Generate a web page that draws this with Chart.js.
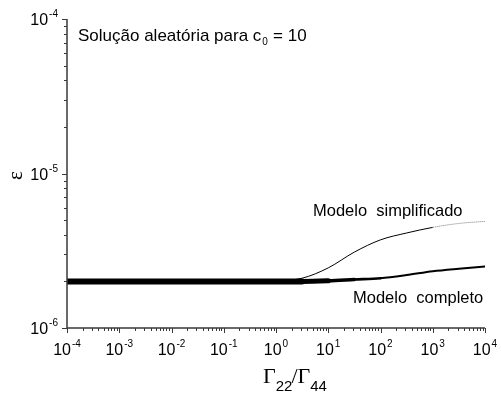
<!DOCTYPE html>
<html><head><meta charset="utf-8">
<script src="https://cdn.jsdelivr.net/npm/chart.js@4/dist/chart.umd.min.js"></script>
<style>html,body{margin:0;padding:0;background:#fff}</style>
</head><body><canvas id="c" width="501" height="394"></canvas>
<script>
// Data
const gammaRatio = [1e-4, 1e-3, 1e-2, 1e-1, 1, 3.16, 10, 31.6, 100, 316, 1000, 3162, 10000];
const modeloSimplificado = [2.0e-6, 2.0e-6, 2.0e-6, 2.0e-6, 2.02e-6, 2.1e-6, 2.45e-6, 3.1e-6, 3.72e-6, 4.12e-6, 4.48e-6, 4.75e-6, 4.9e-6];
const modeloCompleto = [2.0e-6, 2.0e-6, 2.0e-6, 2.0e-6, 2.0e-6, 2.0e-6, 2.02e-6, 2.06e-6, 2.1e-6, 2.2e-6, 2.33e-6, 2.42e-6, 2.5e-6];
const xTickExponents = [-4, -3, -2, -1, 0, 1, 2, 3, 4];
const yTickExponents = [-6, -5, -4];
const seriesLabels = ['Modelo  simplificado', 'Modelo  completo'];
const annotationText = 'Solução aleatória para c';

const sans = '"Liberation Sans", Arial, sans-serif';
const serif = '"Liberation Serif", "Times New Roman", serif';

function pow10Label(ctx, exp, x, y, align, base) {
  const bigFont = base + 'px ' + sans;
  const smallFont = Math.round(base * 0.62) + 'px ' + sans;
  ctx.font = bigFont;
  const w1 = ctx.measureText('10').width;
  ctx.font = smallFont;
  const sup = exp < 0 ? '-' + Math.abs(exp) : String(exp);
  const w2 = ctx.measureText(sup).width;
  const total = w1 + w2 + 1;
  let x0 = align === 'center' ? x - total / 2 : x - total;
  ctx.textAlign = 'left';
  ctx.textBaseline = 'alphabetic';
  ctx.font = bigFont;
  ctx.fillText('10', x0, y);
  ctx.font = smallFont;
  ctx.fillText(sup, x0 + w1 + 1, y - base * 0.5);
}

const axesPlugin = {
  id: 'axesPlugin',
  afterDraw(chart) {
    const ctx = chart.ctx;
    const xs = chart.scales.x, ys = chart.scales.y;
    const a = chart.chartArea;
    ctx.save();
    ctx.strokeStyle = '#3a3a3a';
    ctx.fillStyle = '#000';
    ctx.lineWidth = 1.5;
    ctx.beginPath();
    ctx.moveTo(a.left, a.top);
    ctx.lineTo(a.left, a.bottom);
    ctx.lineTo(a.right, a.bottom);
    ctx.stroke();
    ctx.lineWidth = 1;
    for (let e = -4; e <= 4; e++) {
      for (let m = 1; m <= 9; m++) {
        if (e === 4 && m > 1) break;
        const v = m * Math.pow(10, e);
        const px = Math.round(xs.getPixelForValue(v)) + 0.5;
        const len = m === 1 ? 5 : 3;
        ctx.beginPath();
        ctx.moveTo(px, a.bottom);
        ctx.lineTo(px, a.bottom + len);
        ctx.stroke();
      }
    }
    for (let e = -6; e <= -4; e++) {
      for (let m = 1; m <= 9; m++) {
        if (e === -4 && m > 1) break;
        const v = m * Math.pow(10, e);
        const py = Math.round(ys.getPixelForValue(v)) + 0.5;
        const len = m === 1 ? 5 : 3;
        ctx.beginPath();
        ctx.moveTo(a.left, py);
        ctx.lineTo(a.left - len, py);
        ctx.stroke();
      }
    }
    xTickExponents.forEach(e => {
      const px = xs.getPixelForValue(Math.pow(10, e));
      pow10Label(ctx, e, px, a.bottom + 27, 'center', 16);
    });
    yTickExponents.forEach(e => {
      const py = ys.getPixelForValue(Math.pow(10, e));
      pow10Label(ctx, e, a.left - 9, py + 6, 'right', 16);
    });
    ctx.save();
    ctx.translate(22, (a.top + a.bottom) / 2 + 2);
    ctx.rotate(-Math.PI / 2);
    ctx.font = '21px ' + serif;
    ctx.textAlign = 'center';
    ctx.textBaseline = 'alphabetic';
    ctx.fillText('ε', 0, 0);
    ctx.restore();
    ctx.textAlign = 'left';
    ctx.textBaseline = 'alphabetic';
    const parts = [['Γ', serif, 22, 0, 0], ['22', sans, 15, 8, 0], ['/', serif, 22, 0, -1], ['Γ', serif, 22, 0, 0], ['44', sans, 15, 8, 0]];
    let cx = 263;
    const by = 383;
    parts.forEach(p => {
      ctx.font = p[2] + 'px ' + p[1];
      cx += p[4];
      ctx.fillText(p[0], cx, by + p[3]);
      cx += ctx.measureText(p[0]).width;
    });
    ctx.font = '17px ' + sans;
    ctx.fillText(annotationText, 78, 41);
    let w = ctx.measureText(annotationText).width;
    ctx.font = '10px ' + sans;
    ctx.fillText('0', 78 + w + 1, 45);
    ctx.font = '17px ' + sans;
    ctx.fillText(' = 10', 78 + w + 7, 41);
    ctx.font = '16.5px ' + sans;
    ctx.fillText(seriesLabels[0], 313, 216);
    ctx.fillText(seriesLabels[1], 353, 303);
    ctx.restore();
  }
};

new Chart(document.getElementById('c'), {
  type: 'line',
  data: {
    datasets: [
      {
        label: seriesLabels[1],
        data: gammaRatio.map((x, i) => ({ x, y: modeloCompleto[i] })),
        borderColor: '#000',
        borderWidth: 2,
        pointRadius: 0,
        cubicInterpolationMode: 'monotone',
        borderCapStyle: 'round',
        segment: {
          borderWidth: c => {
            const x = c.p0.parsed.x;
            if (x < 3) return 6;
            if (x < 9) return 5;
            if (x < 30) return 3.5;
            if (x < 90) return 2.6;
            return 2;
          }
        }
      },
      {
        label: seriesLabels[0],
        data: gammaRatio.map((x, i) => ({ x, y: modeloSimplificado[i] })),
        borderColor: '#000',
        borderWidth: 1,
        pointRadius: 0,
        cubicInterpolationMode: 'monotone',
        segment: {
          borderColor: c => (c.p0.parsed.x >= 1000 ? '#777' : '#000'),
          borderDash: c => (c.p0.parsed.x >= 1000 ? [1, 1] : [])
        }
      }
    ]
  },
  options: {
    responsive: false,
    animation: false,
    devicePixelRatio: 1,
    layout: { padding: { left: 67, right: 16, top: 19, bottom: 66 } },
    plugins: { legend: { display: false }, tooltip: { enabled: false } },
    scales: {
      x: { type: 'logarithmic', min: 1e-4, max: 1e4, display: false },
      y: { type: 'logarithmic', min: 1e-6, max: 1e-4, display: false }
    }
  },
  plugins: [axesPlugin]
});
</script>
</body></html>
